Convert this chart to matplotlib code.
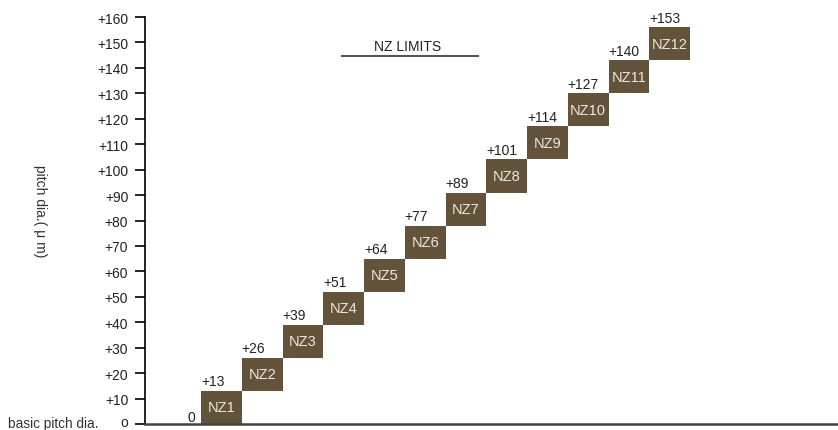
import matplotlib.pyplot as plt
import matplotlib.transforms as mtransforms

plt.rcParams['font.family'] = ['Liberation Sans', 'DejaVu Sans']

# data
zones = ['NZ1', 'NZ2', 'NZ3', 'NZ4', 'NZ5', 'NZ6', 'NZ7', 'NZ8', 'NZ9', 'NZ10', 'NZ11', 'NZ12']
box_bottom = [0, 13, 26, 39, 52, 65, 78, 91, 104, 117, 130, 143]
box_height = [13, 13, 13, 13, 13, 13, 13, 13, 13, 13, 13, 13]
upper_labels = ['+13', '+26', '+39', '+51', '+64', '+77', '+89', '+101', '+114', '+127', '+140', '+153']
y_ticks = [0, 10, 20, 30, 40, 50, 60, 70, 80, 90, 100, 110, 120, 130, 140, 150, 160]
y_ticklabels = [''] + ['+%d' % v for v in y_ticks[1:]]

box_color = '#62533a'

fig = plt.figure(figsize=(8.38, 4.31), dpi=100)
ax = fig.add_axes([145 / 838, 6 / 431, 693 / 838, 407 / 431])

xpos = list(range(len(zones)))
ax.bar(xpos, box_height, bottom=box_bottom, width=1.0, align='edge',
       color=box_color, edgecolor='none')

for x, b, h, name, lab in zip(xpos, box_bottom, box_height, zones, upper_labels):
    ax.text(x + 0.5, b + h / 2, name, ha='center', va='center',
            color='#ece8e0', fontsize=10.5)
    ax.text(x, b + h + 1.0, lab, ha='left', va='bottom', color='#222222', fontsize=10)

ax.text(-0.15, box_bottom[0] + 2.7, '0', ha='right', va='center', color='#222222', fontsize=10)

ax.set_xlim(-56 / 40.75, 637 / 40.75)
ax.set_ylim(0, 160)
ax.set_xticks([])
ax.set_yticks(y_ticks)
ax.set_yticklabels(y_ticklabels, fontsize=10, color='#222222')
ax.tick_params(axis='y', length=7, width=1.2, pad=5)

# the "o" at the zero tick, kept inside the figure
o_trans = mtransforms.offset_copy(ax.get_yaxis_transform(), fig=fig, x=-17, y=0, units='dots')
ax.text(0, -0.6, 'o', transform=o_trans, ha='right', va='baseline',
        fontsize=10, color='#222222', clip_on=False)

ax.spines['top'].set_visible(False)
ax.spines['right'].set_visible(False)
ax.spines['left'].set_linewidth(1.2)
ax.spines['bottom'].set_linewidth(1.8)
ax.spines['bottom'].set_color('#444444')

# title with rule underneath
ax.text((408 - 201) / 40.75, 148.5, 'NZ LIMITS', ha='center', va='center',
        fontsize=10, color='#222222')
ax.plot([(342 - 201) / 40.75, (478 - 201) / 40.75], [144.5, 144.5],
        color='#555555', lw=1.5, clip_on=False)

fig.text(40 / 838, 1 - 211 / 431, 'pitch dia.( μ m)', rotation=-90,
         ha='center', va='center', fontsize=10, color='#333333')
fig.text(8 / 838, 1 - 424 / 431, 'basic pitch dia.', ha='left', va='center',
         fontsize=9.8, color='#333333')

fig.savefig('out.png', dpi=100)
